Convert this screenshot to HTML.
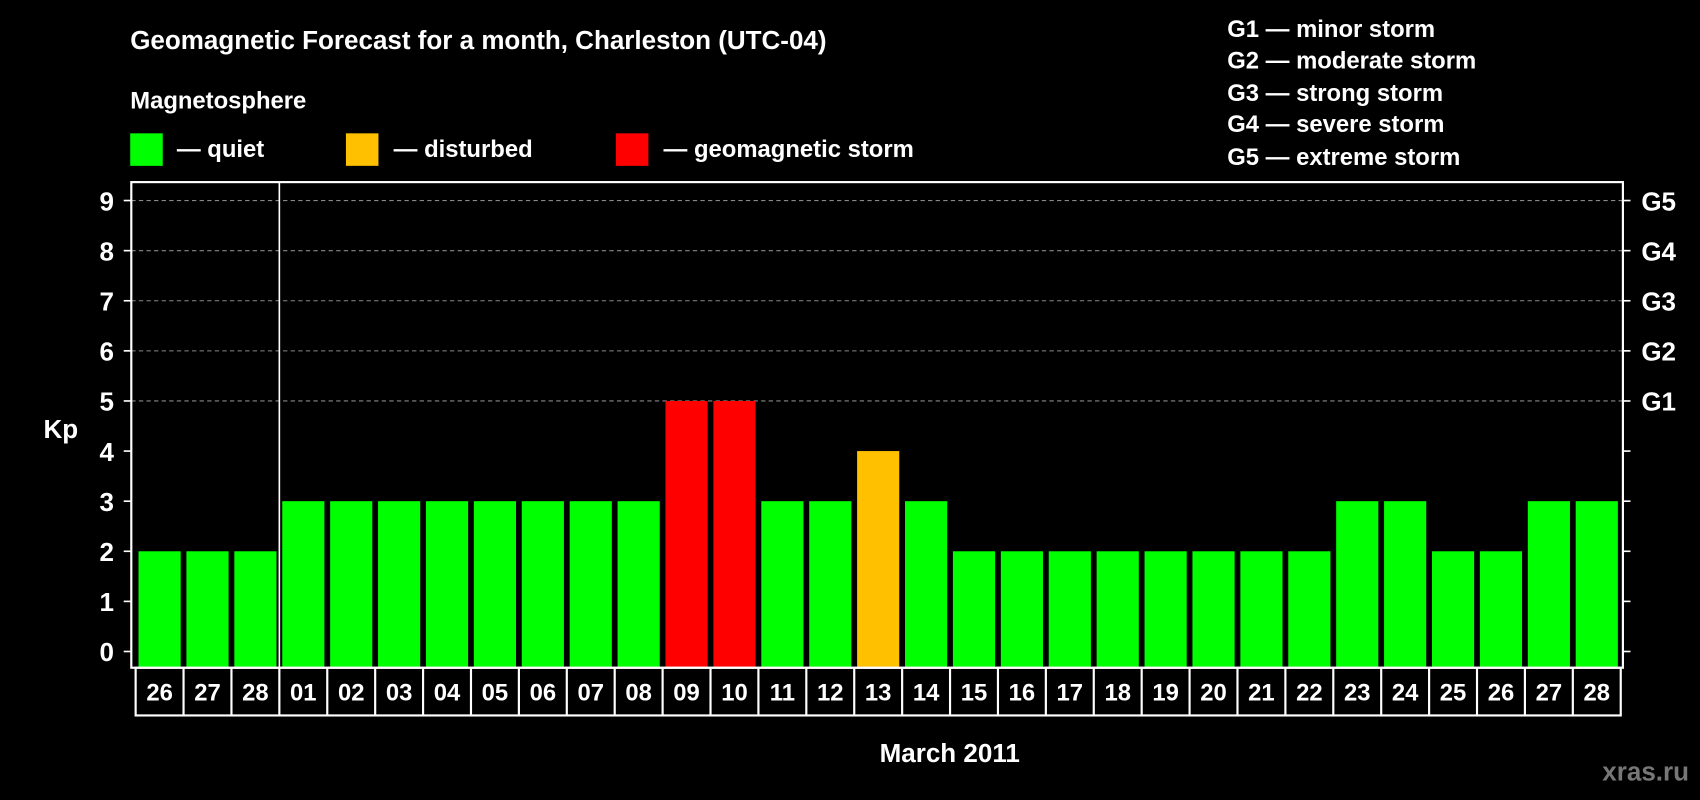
<!DOCTYPE html>
<html><head><meta charset="utf-8"><style>
html,body{margin:0;padding:0;background:#000;width:1700px;height:800px;overflow:hidden}
text{font-family:"Liberation Sans",Arial,sans-serif;font-weight:bold;fill:#fff}
</style></head><body>
<svg id="chart" width="1700" height="800" viewBox="0 0 1568 738" xmlns="http://www.w3.org/2000/svg">
<rect width="1568" height="738" fill="#000"/>
<text x="120" y="45" font-size="24">Geomagnetic Forecast for a month, Charleston (UTC-04)</text>
<text x="120" y="100" font-size="22">Magnetosphere</text>
<rect x="120" y="123" width="30" height="30" fill="#00ff00"/>
<text x="163" y="145" font-size="22">— quiet</text>
<rect x="319" y="123" width="30" height="30" fill="#ffc000"/>
<text x="363" y="145" font-size="22">— disturbed</text>
<rect x="568" y="123" width="30" height="30" fill="#ff0000"/>
<text x="612" y="145" font-size="22">— geomagnetic storm</text>
<g font-size="22">
<text x="1132" y="34">G1 — minor storm</text>
<text x="1132" y="63">G2 — moderate storm</text>
<text x="1132" y="93">G3 — strong storm</text>
<text x="1132" y="122">G4 — severe storm</text>
<text x="1132" y="152">G5 — extreme storm</text>
</g>
<text x="40" y="404" font-size="24">Kp</text>
<text x="876" y="703" font-size="24" text-anchor="middle">March 2011</text>
<text x="1558" y="720" font-size="24" text-anchor="end" style="fill:#777">xras.ru</text>
<g id="grid"></g><g id="bars"></g><g id="axes"></g>
</svg>
<script>
const dates=["26","27","28","01","02","03","04","05","06","07","08","09","10","11","12","13","14","15","16","17","18","19","20","21","22","23","24","25","26","27","28"];
const kp=[2,2,2,3,3,3,3,3,3,3,3,5,5,3,3,4,3,2,2,2,2,2,2,2,2,3,3,2,2,3,3];
const yTicks=[0,1,2,3,4,5,6,7,8,9];
const gLabels=["G1","G2","G3","G4","G5"];
const NS="http://www.w3.org/2000/svg";
const L=121,R=1497,T=168,B=616;
const y=v=>601-v*(601-185)/9;
const step=(1494-127)/(dates.length-1+39/44.27*0+0.881)/1;
const pitch=(R-L-6)/dates.length;
const x0=L+4;
const cx=i=>x0+pitch*(i+0.5);
const bw=pitch*0.88;
function mk(tag,attrs,parent){const e=document.createElementNS(NS,tag);for(const k in attrs)e.setAttribute(k,attrs[k]);parent.appendChild(e);return e;}
const grid=document.getElementById('grid'),bars=document.getElementById('bars'),axes=document.getElementById('axes');
for(let v=5;v<=9;v++){const l=mk('line',{x1:L,x2:R,y1:y(v),y2:y(v),stroke:'#888','stroke-dasharray':'4,3','stroke-width':1},grid);

}
kp.forEach((v,i)=>{const c=v>=5?'#ff0000':(v>=4?'#ffc000':'#00ff00');
const r=mk('rect',{x:cx(i)-bw/2,y:y(v),width:bw,height:B-1-y(v),fill:c},bars);

});
const frame=mk('rect',{x:L,y:T,width:R-L,height:B-T,fill:'none',stroke:'#fff','stroke-width':2},axes);


const dv=mk('line',{x1:x0+pitch*3,x2:x0+pitch*3,y1:T,y2:B,stroke:'#fff','stroke-width':1.5},axes);


yTicks.forEach(v=>{mk('line',{x1:L-7,x2:L,y1:y(v),y2:y(v),stroke:'#fff','stroke-width':1.5},axes);
mk('line',{x1:R,x2:R+7,y1:y(v),y2:y(v),stroke:'#fff','stroke-width':1.5},axes);
const t=mk('text',{x:105,y:y(v)+9,'font-size':24,'text-anchor':'end'},axes);t.textContent=v;

});
gLabels.forEach((g,i)=>{const t=mk('text',{x:1514,y:y(5+i)+9,'font-size':24},axes);t.textContent=g;

});
const box=mk('rect',{x:x0,y:B,width:pitch*dates.length,height:44,fill:'none',stroke:'#fff','stroke-width':2},axes);


dates.forEach((d,i)=>{if(i>0)mk('line',{x1:x0+pitch*i,x2:x0+pitch*i,y1:B,y2:B+44,stroke:'#fff','stroke-width':2},axes);
const t=mk('text',{x:cx(i),y:646,'font-size':22,'text-anchor':'middle'},axes);t.textContent=d;

});
</script>
</body></html>
